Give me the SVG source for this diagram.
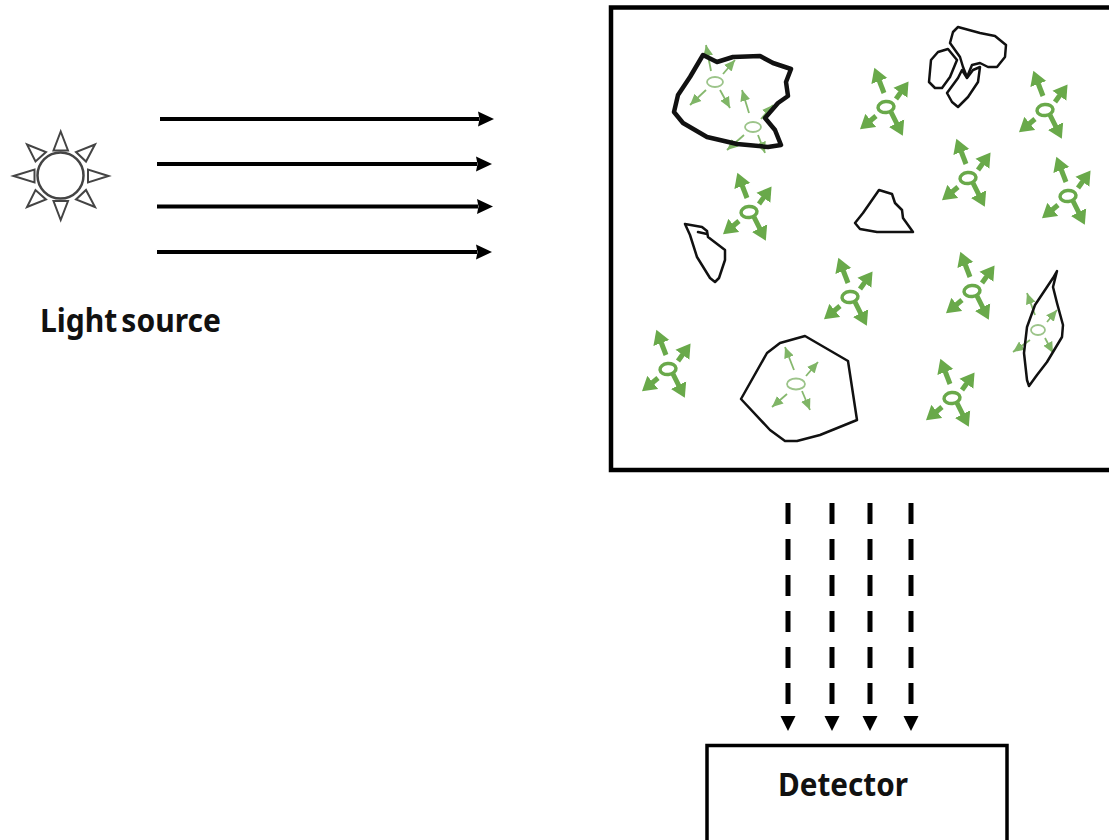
<svg xmlns="http://www.w3.org/2000/svg" width="1109" height="840" viewBox="0 0 1109 840">
  <defs>
    <marker id="beam-head" markerUnits="userSpaceOnUse" markerWidth="16" markerHeight="16" refX="1" refY="8" orient="auto">
      <path d="M0 0.500L16 8L0 15.500L1.500 8Z" fill="#000"/>
    </marker>
    <marker id="bold-head" markerUnits="userSpaceOnUse" markerWidth="15" markerHeight="18" refX="1" refY="9" orient="auto">
      <path d="M0 0.500L14 9L0 17.500Z" fill="#69a94a"/>
    </marker>
    <marker id="thin-head" markerUnits="userSpaceOnUse" markerWidth="12" markerHeight="12" refX="11" refY="6" orient="auto">
      <path d="M0 1L11 6L0 11Z" fill="#7fb566"/>
    </marker>
    <!-- free molecule with its four emission arrows -->
    <g id="emitter">
      <ellipse class="ring" cx="0" cy="0" rx="8" ry="5.500" transform="rotate(-6)"/>
      <line class="shaft" x1="-2" y1="-14" x2="-7" y2="-27"/>
      <line class="shaft" x1="10" y1="-8" x2="15" y2="-15"/>
      <line class="shaft" x1="-10" y1="9" x2="-16" y2="14"/>
      <line class="shaft" x1="5" y1="5" x2="11" y2="17"/>
    </g>
  </defs>
  <style>
    .text { font-family: "Noto Sans", "Liberation Sans", sans-serif; font-weight: 700; fill: #111; }
    .beam { stroke: #000; stroke-width: 4; fill: none; marker-end: url(#beam-head); }
    .out { stroke: #000; stroke-width: 5; fill: none; stroke-dasharray: 21 15; }
    .ray { fill: #fff; stroke: #444; stroke-width: 2; stroke-linejoin: miter; }
    .ring { fill: #fff; stroke: #69a94a; stroke-width: 3.500; }
    .shaft { stroke: #69a94a; stroke-width: 5; marker-end: url(#bold-head); }
    .thin-ring { fill: #fff; stroke: #9cc48a; stroke-width: 1.800; }
    .thin { stroke: #86b86e; stroke-width: 1.800; marker-end: url(#thin-head); }
    .grain { fill: none; stroke: #111; stroke-linejoin: round; stroke-linecap: round; }
  </style>
  <rect width="1109" height="840" fill="#fff"/>

  <g id="light-source">
    <circle cx="60.500" cy="175.500" r="23" fill="#fff" stroke="#444" stroke-width="2.500"/>
    <path class="ray" d="M60.700 131.500L53.500 150.500H68Z"/>
    <path class="ray" d="M60.700 220L53.500 201H68Z"/>
    <path class="ray" d="M13.500 176L34.500 169.500V182.500Z"/>
    <path class="ray" d="M108.500 176L88 169.500V182.500Z"/>
    <path class="ray" d="M27 144.500L46 152L35.500 161.500Z"/>
    <path class="ray" d="M95 144.500L76 152L86 161.500Z"/>
    <path class="ray" d="M27 207L46 199.500L35.500 190Z"/>
    <path class="ray" d="M95 207L76 199.500L86 190Z"/>
    <text class="text" x="40" y="332" font-size="32" textLength="181" lengthAdjust="spacingAndGlyphs" word-spacing="-4">Light source</text>
  </g>

  <g id="connectors">
    <line class="beam" x1="160" y1="119" x2="479" y2="119"/>
    <line class="beam" x1="157" y1="164" x2="477" y2="164"/>
    <line class="beam" x1="157" y1="206.500" x2="478" y2="206.500"/>
    <line class="beam" x1="157" y1="252" x2="477" y2="252"/>
    <line class="out" x1="788" y1="503" x2="788" y2="704"/>
    <line class="out" x1="832" y1="503" x2="832" y2="704"/>
    <line class="out" x1="870" y1="503" x2="870" y2="704"/>
    <line class="out" x1="911" y1="503" x2="911" y2="704"/>
    <path d="M780.500 716H795.500L788 731Z M824.500 716H839.500L832 731Z M862.500 716H877.500L870 731Z M903.500 716H918.500L911 731Z" fill="#000"/>
  </g>

  <g id="sample-chamber">
    <rect x="611" y="7.500" width="505" height="462.500" fill="#fff" stroke="#000" stroke-width="4.500"/>
  </g>

  <g id="bound-molecules">
    <g>
      <ellipse class="thin-ring" cx="715" cy="82" rx="8" ry="5"/>
      <line class="thin" x1="711" y1="71" x2="706" y2="45"/>
      <line class="thin" x1="723" y1="74" x2="735" y2="60"/>
      <line class="thin" x1="706" y1="90" x2="690" y2="105"/>
      <line class="thin" x1="720" y1="90" x2="730" y2="108"/>
    </g>
    <g>
      <ellipse class="thin-ring" cx="753" cy="127" rx="8" ry="5"/>
      <line class="thin" x1="749" y1="113" x2="742" y2="90"/>
      <line class="thin" x1="761" y1="119" x2="773" y2="105"/>
      <line class="thin" x1="744" y1="135" x2="727" y2="150"/>
      <line class="thin" x1="758" y1="135" x2="765" y2="153"/>
    </g>
    <g>
      <ellipse class="thin-ring" cx="796" cy="384" rx="9" ry="5.500"/>
      <line class="thin" x1="794" y1="370" x2="785" y2="347"/>
      <line class="thin" x1="806" y1="376" x2="818" y2="362"/>
      <line class="thin" x1="787" y1="394" x2="772" y2="407"/>
      <line class="thin" x1="802" y1="391" x2="810" y2="410"/>
    </g>
    <g>
      <ellipse class="thin-ring" cx="1038" cy="330" rx="7" ry="5"/>
      <line class="thin" x1="1035" y1="315" x2="1027" y2="293"/>
      <line class="thin" x1="1047" y1="322" x2="1057" y2="310"/>
      <line class="thin" x1="1030" y1="340" x2="1013" y2="352"/>
      <line class="thin" x1="1045" y1="338" x2="1053" y2="353"/>
    </g>
  </g>

  <g id="grains">
    <path class="grain" stroke-width="4.500" d="M703 55L717 62L733 57L760 56L773 63L791 69L786 82L788 96L778 103L765 118L775 130L781 145L768 147L737 144L707 137L683 123L674 112L678 95L690 77Z"/>
    <path class="grain" stroke-width="2.500" d="M958 27L980 33L995 36L1006 45L1005 57L997 67L988 67L980 63L972 65L967 77L963 67L960 57L950 43L953 32Z"/>
    <path class="grain" stroke-width="2.500" d="M948 49L957 60L950 77L942 88L935 88L929 82L931 60L938 52Z"/>
    <path class="grain" stroke-width="2.500" d="M980 67L978 82L968 97L958 107L952 102L947 93L958 78L962 70L967 78L973 70Z"/>
    <path class="grain" stroke-width="2.500" d="M879 190L892 194L895 203L902 210L903 218L913 232L877 232L860 229L855 223L863 213Z"/>
    <path class="grain" stroke-width="2.500" d="M685 224L702 227L707 231L708 237L725 250L725 260L719 278L715 282L710 278L697 257L690 235Z M698 232L707 234"/>
    <path class="grain" stroke-width="2.500" d="M805 336L848 361L857 420L820 435L797 441L785 441L770 430L741 399L767 353L780 343Z"/>
    <path class="grain" stroke-width="2.500" d="M1057 271L1053 287L1057 303L1063 325L1062 337L1047 362L1037 375L1029 386L1027 380L1024 353L1027 327L1035 305L1053 278Z"/>
  </g>

  <g id="free-molecules">
    <use href="#emitter" x="749" y="212"/>
    <use href="#emitter" x="886" y="107"/>
    <use href="#emitter" x="1045" y="110"/>
    <use href="#emitter" x="968" y="178"/>
    <use href="#emitter" x="1068" y="196"/>
    <use href="#emitter" x="850" y="297"/>
    <use href="#emitter" x="972" y="291"/>
    <use href="#emitter" x="668" y="369"/>
    <use href="#emitter" x="952" y="398"/>
  </g>

  <g id="detector">
    <rect x="707" y="745.500" width="300" height="100" fill="#fff" stroke="#000" stroke-width="3.500"/>
    <text class="text" x="778" y="796" font-size="32" textLength="130" lengthAdjust="spacingAndGlyphs">Detector</text>
  </g>
</svg>
